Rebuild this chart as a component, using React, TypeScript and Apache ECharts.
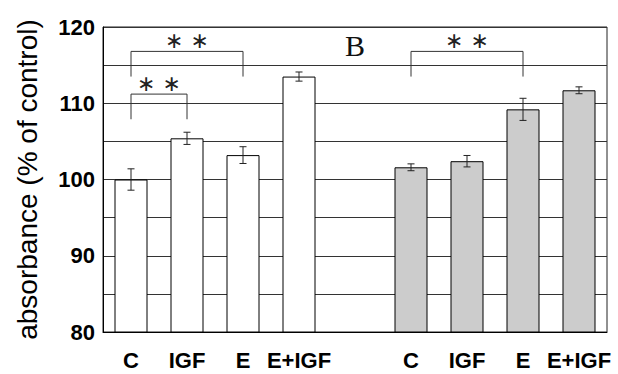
import React, { useEffect, useRef } from "react";
import * as echarts from "echarts";

const categories = ["C", "IGF", "E", "E+IGF", "", "C", "IGF", "E", "E+IGF"];
const whiteMeans = [100.0, 105.4, 103.2, 113.5, null, null, null, null, null];
const whiteErrors = [1.4, 0.8, 1.1, 0.6, null, null, null, null, null];
const grayMeans = [null, null, null, null, null, 101.6, 102.4, 109.2, 111.7];
const grayErrors = [null, null, null, null, null, 0.45, 0.75, 1.45, 0.45];
const bracketFrom = [0, 0, 5];
const bracketTo = [2, 1, 7];
const bracketTop = [116.8, 111.2, 116.8];
const bracketBottom = [113.5, 107.9, 113.5];
const yTicks = [80, 90, 100, 110, 120];
const panelLabel = "B";

export default function App() {
  const ref = useRef<HTMLDivElement>(null);
  useEffect(() => {
    if (!ref.current) return;
    const chart = echarts.init(ref.current, null, { renderer: "svg" });
    const errData: any[] = [];
    categories.forEach((_, i) => {
      if (whiteMeans[i] != null) errData.push([i, whiteMeans[i], whiteErrors[i]]);
      if (grayMeans[i] != null) errData.push([i, grayMeans[i], grayErrors[i]]);
    });
    const brData = bracketFrom.map((f, i) => [f, bracketTo[i], bracketTop[i], bracketBottom[i]]);
    chart.setOption({
      animation: false,
      backgroundColor: "#ffffff",
      grid: {
        left: 103,
        right: 11,
        top: 27,
        bottom: 42,
        show: true,
        borderColor: "#222",
        borderWidth: 1,
      },
      xAxis: {
        type: "category",
        data: categories,
        axisTick: { show: false },
        axisLine: { lineStyle: { color: "#000", width: 1 } },
        axisLabel: {
          color: "#000",
          fontFamily: "Liberation Sans",
          fontWeight: "bold",
          fontSize: 22,
          margin: 17,
          interval: 0,
        },
      },
      yAxis: {
        type: "value",
        min: 80,
        max: 120,
        interval: 5,
        name: "absorbance (% of control)",
        nameLocation: "middle",
        nameGap: 62,
        nameTextStyle: { color: "#000", fontFamily: "Liberation Sans", fontSize: 28 },
        axisTick: { show: false },
        axisLine: { show: true, lineStyle: { color: "#000", width: 1 } },
        axisLabel: {
          color: "#000",
          fontFamily: "Liberation Sans",
          fontWeight: "bold",
          fontSize: 22,
          margin: 8,
          formatter: (v: number) => (yTicks.includes(v) ? String(v) : ""),
        },
        splitLine: { show: true, lineStyle: { color: "#333", width: 1 } },
      },
      graphic: [
        {
          type: "text",
          x: 355,
          y: 45,
          style: {
            text: panelLabel,
            fontFamily: "Liberation Serif",
            fontSize: 30,
            fill: "#111",
            textAlign: "center",
            textVerticalAlign: "middle",
          },
          z: 100,
        },
      ],
      series: [
        {
          type: "bar",
          data: whiteMeans.map((v) => (v == null ? "-" : v)),
          barWidth: 33,
          barGap: "-100%",
          itemStyle: { color: "#ffffff", borderColor: "#000", borderWidth: 1 },
          z: 3,
        },
        {
          type: "bar",
          data: grayMeans.map((v) => (v == null ? "-" : v)),
          barWidth: 33,
          barGap: "-100%",
          itemStyle: { color: "#cccccc", borderColor: "#000", borderWidth: 1 },
          z: 3,
        },
        {
          type: "custom",
          data: errData,
          encode: { x: 0, y: 1 },
          clip: false,
          z: 5,
          renderItem: (params: any, api: any) => {
            const x = api.value(0);
            const m = api.value(1);
            const e = api.value(2);
            const t = api.coord([x, m + e]);
            const b = api.coord([x, m - e]);
            const h = 3.5;
            const st = { stroke: "#222", lineWidth: 1 };
            return {
              type: "group",
              children: [
                { type: "line", shape: { x1: t[0], y1: t[1], x2: b[0], y2: b[1] }, style: st },
                { type: "line", shape: { x1: t[0] - h, y1: t[1], x2: t[0] + h, y2: t[1] }, style: st },
                { type: "line", shape: { x1: b[0] - h, y1: b[1], x2: b[0] + h, y2: b[1] }, style: st },
              ],
            };
          },
        },
        {
          type: "custom",
          data: brData,
          encode: { x: [0, 1], y: [2, 3] },
          clip: false,
          z: 6,
          renderItem: (params: any, api: any) => {
            const f = api.value(0);
            const to = api.value(1);
            const top = api.value(2);
            const bot = api.value(3);
            const a = api.coord([f, bot]);
            const b = api.coord([f, top]);
            const c = api.coord([to, top]);
            const d = api.coord([to, bot]);
            return {
              type: "group",
              children: [
                {
                  type: "polyline",
                  shape: { points: [a, b, c, d] },
                  style: { stroke: "#333", lineWidth: 1, fill: "none" },
                },
                {
                  type: "text",
                  x: (b[0] + c[0]) / 2,
                  y: b[1] - 11,
                  style: {
                    text: "∗ ∗",
                    fontFamily: "DejaVu Sans",
                    fontSize: 22,
                    fill: "#222",
                    textAlign: "center",
                    textVerticalAlign: "middle",
                  },
                },
              ],
            };
          },
        },
      ],
    });
    return () => chart.dispose();
  }, []);
  return <div ref={ref} style={{ width: 618, height: 374, position: "absolute", left: 0, top: 0 }} />;
}
